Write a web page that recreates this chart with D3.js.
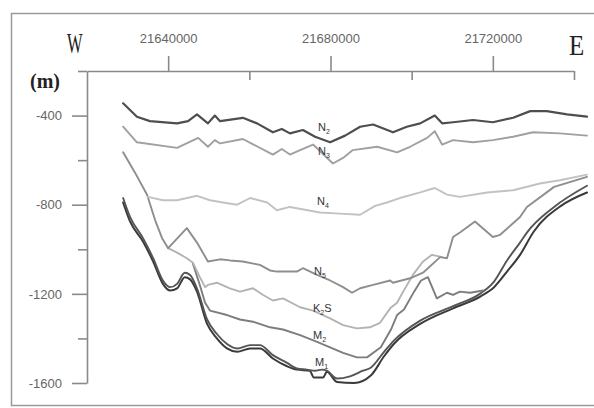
<!DOCTYPE html>
<html><head><meta charset="utf-8">
<script src="https://cdn.jsdelivr.net/npm/d3@7"></script>
<style>body{margin:0;background:#fff;} svg{display:block;}</style>
</head><body>
<svg id="c" width="594" height="408"></svg>
<script>
// ---- data (easting m, elevation m) ----
const xTicksMajor = [21640000, 21680000, 21720000];
const xTicksMinor = [21660000, 21700000, 21740000];
const yTicksMajor = [-400, -800, -1200, -1600];
const yTicksMinor = [-200, -600, -1000, -1400];

const N2 = [[21628900,-345],[21632300,-405],[21635500,-425],[21642200,-435],[21644900,-425],[21647100,-395],[21649800,-435],[21651500,-400],[21652800,-425],[21658400,-410],[21661900,-435],[21665800,-475],[21668000,-460],[21670000,-480],[21673200,-465],[21676200,-495],[21679900,-520],[21683600,-490],[21687300,-450],[21690500,-440],[21695400,-475],[21698800,-450],[21702100,-435],[21705700,-400],[21707500,-435],[21710200,-430],[21715100,-420],[21720000,-430],[21725000,-410],[21729200,-380],[21733300,-380],[21738300,-395],[21743200,-405]];
const N3 = [[21628900,-450],[21632300,-520],[21642200,-545],[21647400,-500],[21649800,-540],[21651500,-510],[21652800,-525],[21658400,-505],[21665800,-575],[21668000,-550],[21670000,-575],[21672500,-555],[21675700,-530],[21680600,-615],[21683100,-590],[21685500,-555],[21691500,-540],[21696400,-565],[21699600,-540],[21703800,-500],[21705700,-470],[21707500,-530],[21710200,-510],[21715100,-520],[21720000,-510],[21725000,-495],[21729900,-475],[21736500,-480],[21743200,-490]];
const N4 = [[21635000,-765],[21638700,-780],[21642200,-780],[21647100,-760],[21650300,-780],[21653500,-790],[21657000,-800],[21660200,-770],[21664400,-790],[21666800,-825],[21670000,-810],[21677400,-835],[21682300,-840],[21687300,-845],[21691000,-805],[21693900,-790],[21697100,-770],[21702100,-745],[21705700,-725],[21708700,-755],[21711900,-765],[21718600,-745],[21725000,-735],[21731600,-705],[21736500,-690],[21743200,-665]];
const N5 = [[21628900,-565],[21631800,-655],[21634800,-755],[21636800,-870],[21638500,-950],[21640000,-995],[21644600,-905],[21647100,-970],[21649800,-1055],[21652800,-1045],[21655200,-1050],[21658400,-1055],[21662600,-1070],[21665100,-1095],[21666800,-1100],[21671700,-1100],[21673200,-1085],[21676700,-1115],[21679900,-1140],[21683100,-1170],[21685300,-1195],[21687300,-1175],[21690500,-1160],[21694700,-1140],[21695400,-1150],[21699600,-1130],[21702800,-1105],[21707000,-1035],[21708700,-1040],[21710200,-945],[21711900,-925],[21715600,-875],[21720000,-945],[21721800,-935],[21726700,-855],[21728400,-810],[21735100,-720],[21743200,-675]];
const K2S = [[21640000,-995],[21642200,-1015],[21644600,-1040],[21646100,-1060],[21647800,-1125],[21649100,-1170],[21649800,-1160],[21652000,-1150],[21655200,-1175],[21657700,-1190],[21660900,-1175],[21663400,-1205],[21665800,-1230],[21668300,-1220],[21672500,-1260],[21675700,-1275],[21679900,-1310],[21683100,-1340],[21686500,-1355],[21689700,-1350],[21692200,-1330],[21694700,-1265],[21696400,-1240],[21697900,-1190],[21700300,-1115],[21702800,-1055],[21705000,-1025],[21707500,-1035]];
const M2 = [[21646100,-1065],[21647800,-1160],[21649100,-1240],[21650300,-1275],[21654500,-1295],[21657700,-1315],[21660900,-1325],[21665100,-1350],[21668300,-1360],[21672500,-1385],[21676700,-1415],[21679900,-1440],[21683100,-1465],[21686500,-1485],[21689000,-1485],[21692400,-1440],[21694900,-1360],[21696400,-1295],[21698100,-1270],[21700600,-1190],[21702300,-1140],[21704000,-1125],[21706200,-1220],[21708700,-1195],[21710200,-1205],[21711900,-1190],[21714400,-1195],[21717600,-1185]];
const M1 = [[21628900,-770],[21630600,-855],[21633800,-950],[21636300,-1040],[21638700,-1140],[21640500,-1170],[21642200,-1155],[21644100,-1105],[21645400,-1115],[21647100,-1175],[21649600,-1315],[21652000,-1380],[21654500,-1425],[21657000,-1445],[21660200,-1430],[21662600,-1430],[21665800,-1475],[21669300,-1510],[21671700,-1535],[21674200,-1540],[21676200,-1545],[21677900,-1540],[21679100,-1545],[21681600,-1580],[21684800,-1570],[21688000,-1545],[21690000,-1530],[21693200,-1460],[21695600,-1410],[21702100,-1320],[21710200,-1255],[21716800,-1200],[21720300,-1145],[21723500,-1050],[21726700,-970],[21728400,-925],[21735100,-810],[21743200,-715]];
const Base = [[21628900,-790],[21630600,-875],[21633800,-965],[21636300,-1055],[21638700,-1155],[21640500,-1185],[21642200,-1175],[21644100,-1125],[21645400,-1135],[21647100,-1190],[21649600,-1335],[21652000,-1400],[21654500,-1445],[21657000,-1460],[21660200,-1445],[21662600,-1445],[21665800,-1490],[21669300,-1525],[21671700,-1540],[21674900,-1545],[21675900,-1575],[21678200,-1575],[21679100,-1550],[21681600,-1595],[21685800,-1600],[21690000,-1565],[21693200,-1480],[21695600,-1425],[21702100,-1335],[21710200,-1265],[21717100,-1210],[21720300,-1170],[21723500,-1100],[21726700,-1025],[21730100,-920],[21736800,-805],[21743200,-745]];

const layers = [
  {d: Base, c: "#3a3a3a", w: 2.0, smooth: true},
  {d: M1,   c: "#555555", w: 1.9, smooth: true},
  {d: M2,   c: "#7d7d7d", w: 1.9},
  {d: K2S,  c: "#b3b3b3", w: 1.9},
  {d: N5,   c: "#8e8e8e", w: 1.9},
  {d: N4,   c: "#c2c2c2", w: 1.9},
  {d: N3,   c: "#a0a0a0", w: 1.9},
  {d: N2,   c: "#4e4e4e", w: 2.2}
];
const labels = [
  {t: "N", s: "2", after: "", x: 318, y: 131},
  {t: "N", s: "3", after: "", x: 318, y: 155},
  {t: "N", s: "4", after: "", x: 317, y: 205},
  {t: "N", s: "5", after: "", x: 314, y: 275},
  {t: "K", s: "2", after: "S", x: 313, y: 312},
  {t: "M", s: "2", after: "", x: 313, y: 339},
  {t: "M", s: "1", after: "", x: 315, y: 366}
];

const svg = d3.select("#c");
svg.append("rect").attr("x", 11.5).attr("y", 13.5).attr("width", 640).attr("height", 392)
  .attr("fill", "none").attr("stroke", "#9a9a9a").attr("stroke-width", 1.5);

const x = d3.scaleLinear().domain([21620000, 21740000]).range([87, 574]);
const y = d3.scaleLinear().domain([-200, -1600]).range([71, 383]);
const plain = d => String(d);

const axisColor = "#8a8a8a";
function styleAxis(g) {
  g.selectAll("path.domain").attr("stroke", axisColor).attr("stroke-width", 1.6);
  g.selectAll(".tick line").attr("stroke", axisColor).attr("stroke-width", 1.6);
  g.selectAll(".tick text").attr("fill", "#666")
    .style("font-family", "Liberation Sans, Arial, sans-serif").style("font-size", "13px");
}
const gx = svg.append("g").attr("transform", "translate(0,71)")
  .call(d3.axisTop(x).tickValues(xTicksMajor).tickSize(15).tickSizeOuter(0).tickPadding(13).tickFormat(plain));
styleAxis(gx);
const gx2 = svg.append("g").attr("transform", "translate(0,71)")
  .call(d3.axisBottom(x).tickValues(xTicksMinor).tickSize(9).tickSizeOuter(0).tickFormat(""));
styleAxis(gx2);
gx2.select("path.domain").remove();

const gy = svg.append("g").attr("transform", "translate(87,0)")
  .call(d3.axisLeft(y).tickValues(yTicksMajor).tickSize(15).tickSizeOuter(0).tickPadding(10).tickFormat(plain));
styleAxis(gy);
const gy2 = svg.append("g").attr("transform", "translate(87,0)")
  .call(d3.axisLeft(y).tickValues(yTicksMinor).tickSize(9).tickSizeOuter(0).tickFormat(""));
styleAxis(gy2);
gy2.select("path.domain").remove();

// layer lines
layers.forEach(L => {
  const line = d3.line().x(d => x(d[0])).y(d => y(d[1]))
    .curve(L.smooth ? d3.curveMonotoneX : d3.curveLinear);
  svg.append("path").datum(L.d).attr("d", line).attr("fill", "none")
    .attr("stroke", L.c).attr("stroke-width", L.w).attr("stroke-linejoin", "round").attr("stroke-linecap", "round");
});

// layer labels
labels.forEach(l => {
  const t = svg.append("text").attr("x", l.x).attr("y", l.y)
    .style("font-family", "Liberation Sans, Arial, sans-serif").style("font-size", "11px").attr("fill", "#333");
  t.append("tspan").text(l.t);
  t.append("tspan").attr("dy", 3).style("font-size", "7px").text(l.s);
  if (l.after) t.append("tspan").attr("dy", -3).text(l.after);
});

// W / E / (m)
svg.append("text").attr("transform", "translate(67,53) scale(0.57,1)")
  .style("font-family", "Liberation Serif, serif").style("font-size", "29px").attr("fill", "#222").text("W");
svg.append("text").attr("transform", "translate(569,55) scale(0.86,1)")
  .style("font-family", "Liberation Serif, serif").style("font-size", "29px").attr("fill", "#222").text("E");
svg.append("text").attr("x", 30).attr("y", 88)
  .style("font-family", "Liberation Serif, serif").style("font-size", "20px").style("font-weight", "bold").attr("fill", "#222").text("(m)");
</script>
</body></html>
